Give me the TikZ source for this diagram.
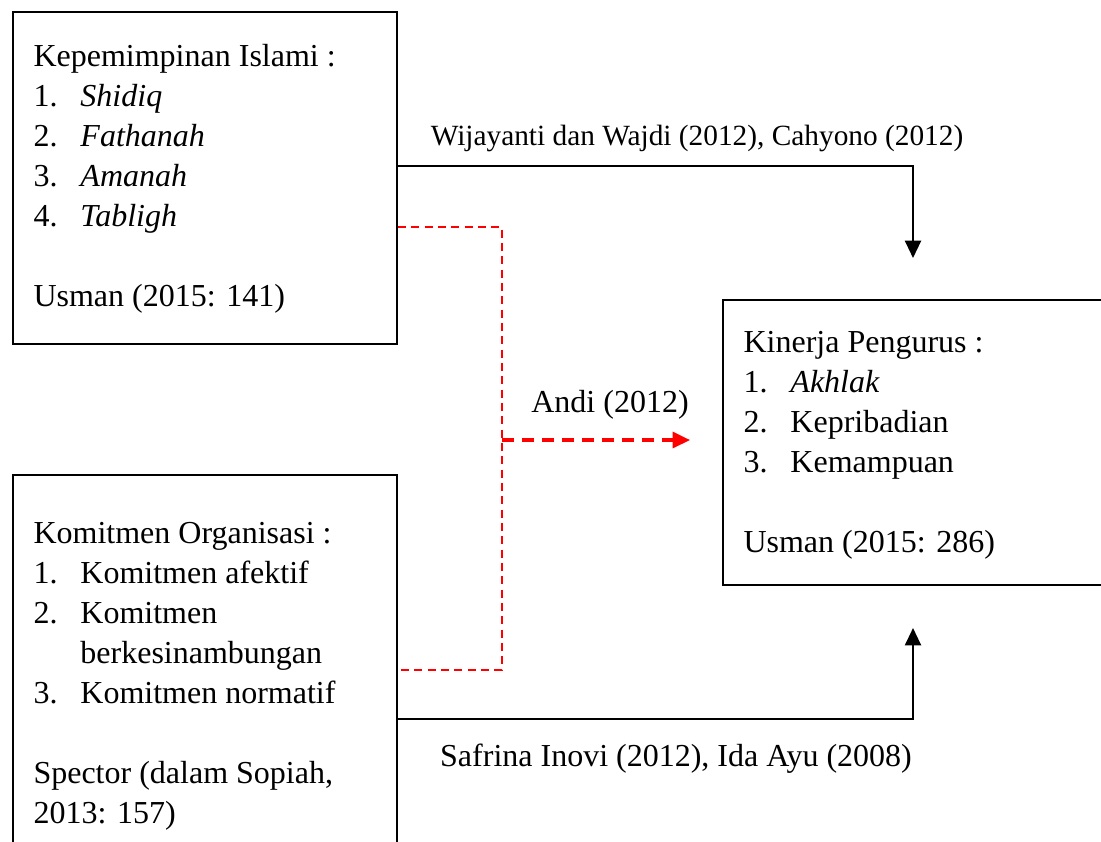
\documentclass[tikz,border=0pt]{standalone}
\usepackage{fontspec}
\setmainfont{Liberation Serif}
\usetikzlibrary{arrows.meta}

\begin{document}
\begin{tikzpicture}[
x=0.375pt, y=-0.375pt,
mybox/.style={
  draw,
  line width=0.75pt,
  inner sep=0pt,
  anchor=north west
  },
mytext/.style={inner sep=0pt, anchor=base west, font=\fontsize{12}{15}\selectfont},
mylabel/.style={inner sep=0pt, anchor=base, font=\fontsize{12}{15}\selectfont},
blackarrow/.style={line width=0.8pt, -{Triangle[width=6pt,length=6.5pt]}},
redline/.style={red, line width=0.6pt, dash pattern=on 3pt off 2pt},
redarrow/.style={red, line width=1.2pt, dash pattern=on 4.5pt off 3pt, -{Triangle[width=6pt,length=6.5pt]}}
]
\useasboundingbox (0,0) rectangle (1101,841);
\clip (0,0) rectangle (1101,841);
% boxes
\node[mybox, minimum width=144pt, minimum height=124.5pt] (lead) at (12,11) {};
\node[mybox, minimum width=144pt, minimum height=150pt] (commit) at (12,474) {};
\node[mybox, minimum width=149.25pt, minimum height=106.9pt] (perf) at (722,299) {};
% box texts
\node[mytext] (leadtext) at (33,66) {\begin{tabular}[t]{@{}p{17.6pt}@{}l@{}}
\multicolumn{2}{@{}l@{}}{Kepemimpinan Islami :}\\
1. & \textit{Shidiq}\\
2. & \textit{Fathanah}\\
3. & \textit{Amanah}\\
4. & \textit{Tabligh}\\
 & \\
\multicolumn{2}{@{}l@{}}{Usman (2015: 141)}
\end{tabular}};
\node[mytext] (committext) at (33,543) {\begin{tabular}[t]{@{}p{17.6pt}@{}l@{}}
\multicolumn{2}{@{}l@{}}{Komitmen Organisasi :}\\
1. & Komitmen afektif\\
2. & Komitmen\\
 & berkesinambungan\\
3. & Komitmen normatif\\
 & \\
\multicolumn{2}{@{}l@{}}{Spector (dalam Sopiah,}\\
\multicolumn{2}{@{}l@{}}{2013: 157)}
\end{tabular}};
\node[mytext] (perftext) at (743,352) {\begin{tabular}[t]{@{}p{17.6pt}@{}l@{}}
\multicolumn{2}{@{}l@{}}{Kinerja Pengurus :}\\
1. & \textit{Akhlak}\\
2. & Kepribadian\\
3. & Kemampuan\\
 & \\
\multicolumn{2}{@{}l@{}}{Usman (2015: 286)}
\end{tabular}};
% arrow ends
\coordinate (topin) at (913,258);
\coordinate (botin) at (913,628);
\coordinate (redin) at (690,440);
\coordinate (redtop) at (502,227);
\coordinate (redbot) at (502,670);
% connectors
\draw[blackarrow] (lead.east |- 0,166) -| (topin);
\draw[blackarrow] (commit.east |- 0,719) -| (botin);
\draw[redline] (lead.east |- redtop) -- (redtop) -- (redbot) -- (commit.east |- redbot);
\draw[redarrow] (redin -| redtop) -- (redin);
% labels
\node[mylabel, font=\fontsize{11}{14}\selectfont] (toplabel) at (697,145) {Wijayanti dan Wajdi (2012), Cahyono (2012)};
\node[mylabel] (redlabel) at (610,412) {Andi (2012)};
\node[mylabel] (botlabel) at (676,766) {Safrina Inovi (2012), Ida Ayu (2008)};
\end{tikzpicture}
\end{document}
